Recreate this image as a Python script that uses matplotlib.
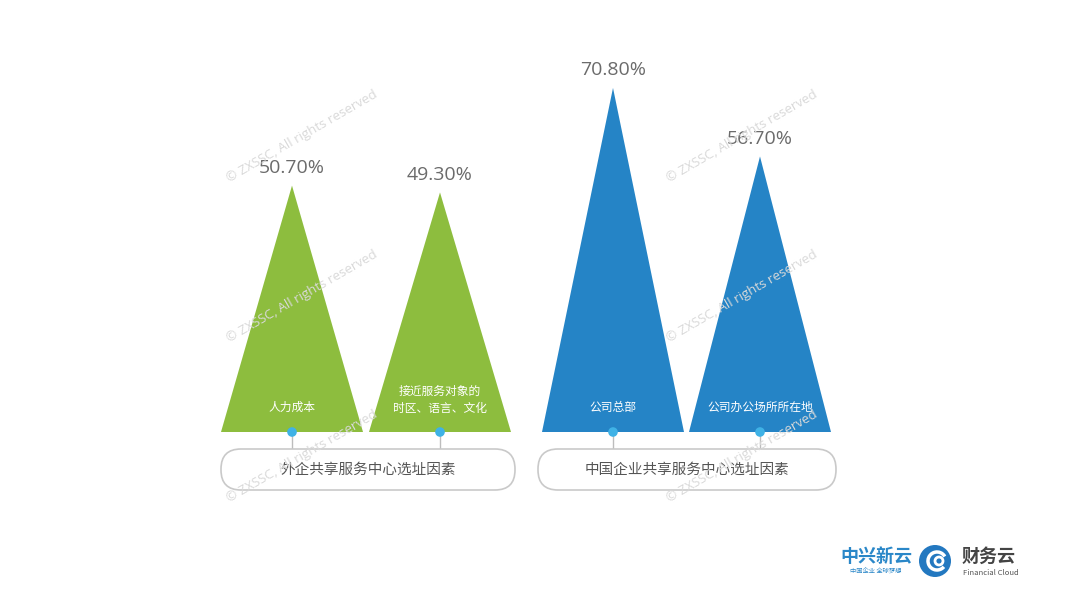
import matplotlib
matplotlib.use("Agg")
import matplotlib.pyplot as plt
from matplotlib.patches import Polygon, FancyBboxPatch, Circle, Arc

plt.rcParams['font.family'] = ['Noto Sans CJK SC', 'DejaVu Sans']

# data
groups = ['外企共享服务中心选址因素', '中国企业共享服务中心选址因素']
labels = ['人力成本', '接近服务对象的\n时区、语言、文化', '公司总部', '公司办公场所所在地']
values = [50.7, 49.3, 70.8, 56.7]
value_text = ['50.70%', '49.30%', '70.80%', '56.70%']
group_of = [0, 0, 1, 1]

green = '#8dbd3e'
blue = '#2584c6'
colors = [green, blue]

# layout (pixels)
W, H = 1080, 607
centers = [292, 440, 613, 760]
half_w = 71
base_px = 432
px_per_pct = 4.86

fig = plt.figure(figsize=(W / 100, H / 100), dpi=100)
fig.patch.set_facecolor('white')

# data axes: y in percent
ax = fig.add_axes([0, 0, 1, 1])
ax.set_xlim(0, W)
ax.set_ylim(-(H - base_px) / px_per_pct, base_px / px_per_pct)
ax.axis('off')

# decoration axes: pixel coords
deco = fig.add_axes([0, 0, 1, 1], zorder=3)
deco.set_xlim(0, W)
deco.set_ylim(H, 0)
deco.axis('off')
deco.patch.set_alpha(0)

for i, v in enumerate(values):
    c = centers[i]
    tri = Polygon([[c - half_w, 0], [c + half_w, 0], [c, v]], closed=True,
                  facecolor=colors[group_of[i]], edgecolor='none', zorder=2)
    ax.add_patch(tri)
    ax.text(c, v + 3.6, value_text[i], ha='center', va='center', fontsize=14,
            color='#6b6b6b', family=['Open Sans', 'DejaVu Sans'], zorder=4)
    if '\n' in labels[i]:
        ax.text(c, 6.6, labels[i], ha='center', va='center', fontsize=8.5,
                color='white', linespacing=1.45, zorder=4)
    else:
        ax.text(c, 5, labels[i], ha='center', va='center', fontsize=8.5,
                color='white', zorder=4)

# connectors and dots
for c in centers:
    deco.plot([c, c], [432, 449], color='#bdbdbd', lw=1, zorder=2)
    deco.add_patch(Circle((c, 432), 4.8, facecolor='#3fb2e6', edgecolor='none', zorder=5))

# group pills
pills = [(221, 515), (538, 836)]
for g, (x0, x1) in enumerate(pills):
    deco.add_patch(FancyBboxPatch((x0, 449), x1 - x0, 41,
                                  boxstyle='round,pad=0,rounding_size=20',
                                  facecolor='white', edgecolor='#c9c9c9', lw=1.2, zorder=3))
    deco.text((x0 + x1) / 2, 470, groups[g], ha='center', va='center',
              fontsize=10.5, color='#555555', zorder=4)

# watermarks
for wx in [302, 742]:
    for wy in [136, 296, 456]:
        deco.text(wx, wy, '© ZXSSC, All rights reserved', ha='center', va='center',
                  rotation=30, fontsize=9.5, color='#d9d9d9', zorder=6,
                  family=['Open Sans', 'DejaVu Sans'])

# logo
deco.text(876, 556, '中兴新云', ha='center', va='center', fontsize=13,
          fontweight='bold', color='#2a87c8', zorder=4)
deco.text(876, 572, '中国企业 全球梦想', ha='center', va='center', fontsize=4.5,
          color='#2a87c8', zorder=4)
deco.add_patch(Circle((935, 561), 16, facecolor='#2378c0', edgecolor='none', zorder=4))
deco.add_patch(Arc((937, 561), 18, 18, theta1=40, theta2=330, color='white', lw=2.5, zorder=5))
deco.add_patch(Circle((939, 561), 4, facecolor='#2378c0', edgecolor='white', lw=2, zorder=5))
deco.text(989, 556, '财务云', ha='center', va='center', fontsize=13,
          fontweight='bold', color='#444444', zorder=4)
deco.text(991, 573, 'Financial Cloud', ha='center', va='center', fontsize=5.5,
          color='#555555', zorder=4)

fig.savefig('out.png', dpi=100, facecolor='white')
